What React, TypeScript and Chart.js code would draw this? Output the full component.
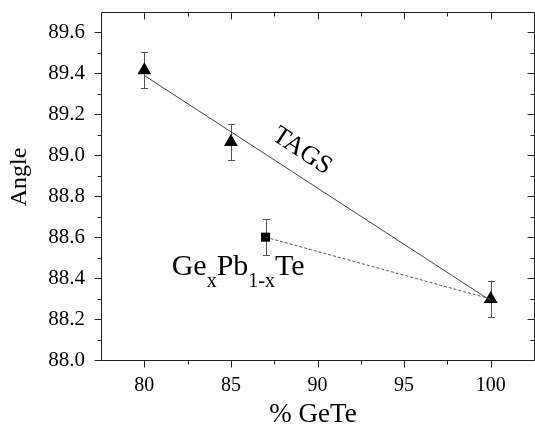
import React, { useEffect, useRef } from "react";
import { Chart, registerables } from "chart.js";

Chart.register(...registerables);

const FONT = "'Liberation Serif', 'Times New Roman', serif";

// TAGS series
const tagsX = [80, 85, 100];
const tagsY = [89.415, 89.065, 88.298];
const tagsErr = [0.088, 0.088, 0.09];
// GexPb1-xTe series
const gptX = [87];
const gptY = [88.6];
const gptErr = [0.088];
// linear fit through TAGS
const fitX = [80, 100];
const fitY = [89.39, 88.29];
// dotted connector
const dashX = [87, 100];
const dashY = [88.6, 88.298];

const xTicks = [80, 85, 90, 95, 100];
const xMinor = [82.5, 87.5, 92.5, 97.5];
const yTicks = [88.0, 88.2, 88.4, 88.6, 88.8, 89.0, 89.2, 89.4, 89.6];
const yMinor = [88.1, 88.3, 88.5, 88.7, 88.9, 89.1, 89.3, 89.5];

const xTitle = "% GeTe";
const yTitle = "Angle";
const tagsLabel = "TAGS";
const tagsLabelPos = { x: 89.1, y: 89.02 };
const gptLabelPos = { x: 81.58, y: 88.415 };

const pts = (xs: number[], ys: number[]) => xs.map((x, i) => ({ x, y: ys[i] }));

const frameColor = "#222";

const framePlugin = {
  id: "frame",
  afterDraw(chart: any) {
    const { ctx, chartArea: a, scales } = chart;
    const xs = scales.x;
    const ys = scales.y;
    const L = a.left + 0.5, R = a.right + 0.5, T = a.top + 0.5, B = a.bottom + 0.5;
    ctx.save();
    ctx.strokeStyle = frameColor;
    ctx.lineWidth = 1;
    ctx.beginPath();
    ctx.rect(L, T, R - L, B - T);
    ctx.stroke();
    const MAJ = 7, MIN = 4;
    ctx.beginPath();
    const xt = (v: number, len: number) => {
      const p = Math.round(xs.getPixelForValue(v)) + 0.5;
      ctx.moveTo(p, B); ctx.lineTo(p, B + len);
      ctx.moveTo(p, T); ctx.lineTo(p, T + len);
    };
    const yt = (v: number, len: number) => {
      const p = Math.round(ys.getPixelForValue(v)) + 0.5;
      ctx.moveTo(L, p); ctx.lineTo(L - len, p);
      ctx.moveTo(R, p); ctx.lineTo(R - len, p);
    };
    xTicks.forEach((v) => xt(v, MAJ));
    xMinor.forEach((v) => xt(v, MIN));
    yTicks.forEach((v) => yt(v, MAJ));
    yMinor.forEach((v) => yt(v, MIN));
    ctx.stroke();

    // axis titles
    ctx.fillStyle = "#000";
    ctx.font = `27px ${FONT}`;
    ctx.textAlign = "center";
    ctx.textBaseline = "alphabetic";
    ctx.fillText(xTitle, 313, 422);
    ctx.save();
    ctx.translate(26, 177);
    ctx.rotate(-Math.PI / 2);
    ctx.font = `24px ${FONT}`;
    ctx.fillText(yTitle, 0, 0);
    ctx.restore();

    // TAGS annotation
    ctx.save();
    ctx.translate(xs.getPixelForValue(tagsLabelPos.x), ys.getPixelForValue(tagsLabelPos.y));
    ctx.rotate((33.5 * Math.PI) / 180);
    ctx.font = `26px ${FONT}`;
    ctx.textAlign = "center";
    ctx.textBaseline = "middle";
    ctx.fillText(tagsLabel, 0, 0);
    ctx.restore();

    // GexPb1-xTe annotation
    let px = xs.getPixelForValue(gptLabelPos.x);
    const py = ys.getPixelForValue(gptLabelPos.y);
    ctx.textAlign = "left";
    ctx.textBaseline = "alphabetic";
    const parts: [string, boolean][] = [["Ge", false], ["x", true], ["Pb", false], ["1-x", true], ["Te", false]];
    parts.forEach(([t, sub]) => {
      ctx.font = sub ? `20px ${FONT}` : `30px ${FONT}`;
      ctx.fillText(t, px, sub ? py + 12 : py);
      px += ctx.measureText(t).width;
    });
    ctx.restore();
  },
};

const errPlugin = {
  id: "errbars",
  beforeDatasetsDraw(chart: any) {
    const { ctx, scales } = chart;
    const xs = scales.x, ys = scales.y;
    ctx.save();
    ctx.strokeStyle = "#555";
    ctx.lineWidth = 1;
    ctx.beginPath();
    const draw = (X: number[], Y: number[], E: number[]) => {
      X.forEach((x, i) => {
        const px = Math.round(xs.getPixelForValue(x)) + 0.5;
        const y1 = ys.getPixelForValue(Y[i] + E[i]);
        const y2 = ys.getPixelForValue(Y[i] - E[i]);
        ctx.moveTo(px, y1); ctx.lineTo(px, y2);
        ctx.moveTo(px - 3.5, Math.round(y1) + 0.5); ctx.lineTo(px + 3.5, Math.round(y1) + 0.5);
        ctx.moveTo(px - 3.5, Math.round(y2) + 0.5); ctx.lineTo(px + 3.5, Math.round(y2) + 0.5);
      });
    };
    draw(tagsX, tagsY, tagsErr);
    draw(gptX, gptY, gptErr);
    ctx.stroke();
    ctx.restore();
  },
};

const zeroPad = (s: any) => {
  s.paddingTop = 0;
  s.paddingBottom = 0;
  s.paddingLeft = 0;
  s.paddingRight = 0;
};

export default function App() {
  const ref = useRef<HTMLCanvasElement>(null);
  useEffect(() => {
    if (!ref.current) return;
    const chart = new Chart(ref.current, {
      type: "scatter",
      data: {
        datasets: [
          {
            label: "fit",
            data: pts(fitX, fitY),
            showLine: true,
            borderColor: "#444",
            borderWidth: 1,
            pointRadius: 0,
          },
          {
            label: "dash",
            data: pts(dashX, dashY),
            showLine: true,
            borderColor: "#555",
            borderWidth: 1,
            borderDash: [3, 2],
            pointRadius: 0,
          },
          {
            label: "TAGS",
            data: pts(tagsX, tagsY),
            pointStyle: "triangle",
            pointRadius: 8,
            backgroundColor: "#000",
            borderColor: "#000",
            borderWidth: 0,
          },
          {
            label: "GexPb1-xTe",
            data: pts(gptX, gptY),
            pointStyle: "rect",
            pointRadius: 6.4,
            backgroundColor: "#000",
            borderColor: "#000",
            borderWidth: 0,
          },
        ],
      },
      options: {
        animation: false,
        responsive: false,
        layout: { autoPadding: false, padding: { top: 12, right: 1, left: 0, bottom: 0 } },
        plugins: { legend: { display: false }, tooltip: { enabled: false } },
        scales: {
          x: {
            type: "linear",
            min: 77.5,
            max: 102.5,
            grid: { display: false, drawTicks: false },
            border: { display: false },
            afterBuildTicks: (s: any) => {
              s.ticks = xTicks.map((v) => ({ value: v }));
            },
            afterFit: (s: any) => {
              s.height = 67;
              zeroPad(s);
            },
            ticks: {
              color: "#000",
              font: { family: FONT, size: 20 },
              padding: 14,
              maxRotation: 0,
              callback: (v: any) => String(v),
            },
          },
          y: {
            type: "linear",
            min: 88.0,
            max: 89.7,
            grid: { display: false, drawTicks: false },
            border: { display: false },
            afterBuildTicks: (s: any) => {
              s.ticks = yTicks.map((v) => ({ value: v }));
            },
            afterFit: (s: any) => {
              s.width = 101;
              zeroPad(s);
            },
            ticks: {
              color: "#000",
              font: { family: FONT, size: 21 },
              padding: 16,
              callback: (v: any) => Number(v).toFixed(1),
            },
          },
        },
      },
      plugins: [errPlugin, framePlugin],
    });
    return () => chart.destroy();
  }, []);
  return (
    <div style={{ position: "absolute", left: 0, top: 0, width: 535, height: 427, background: "#fff" }}>
      <canvas ref={ref} width={535} height={427} style={{ display: "block" }} />
    </div>
  );
}
